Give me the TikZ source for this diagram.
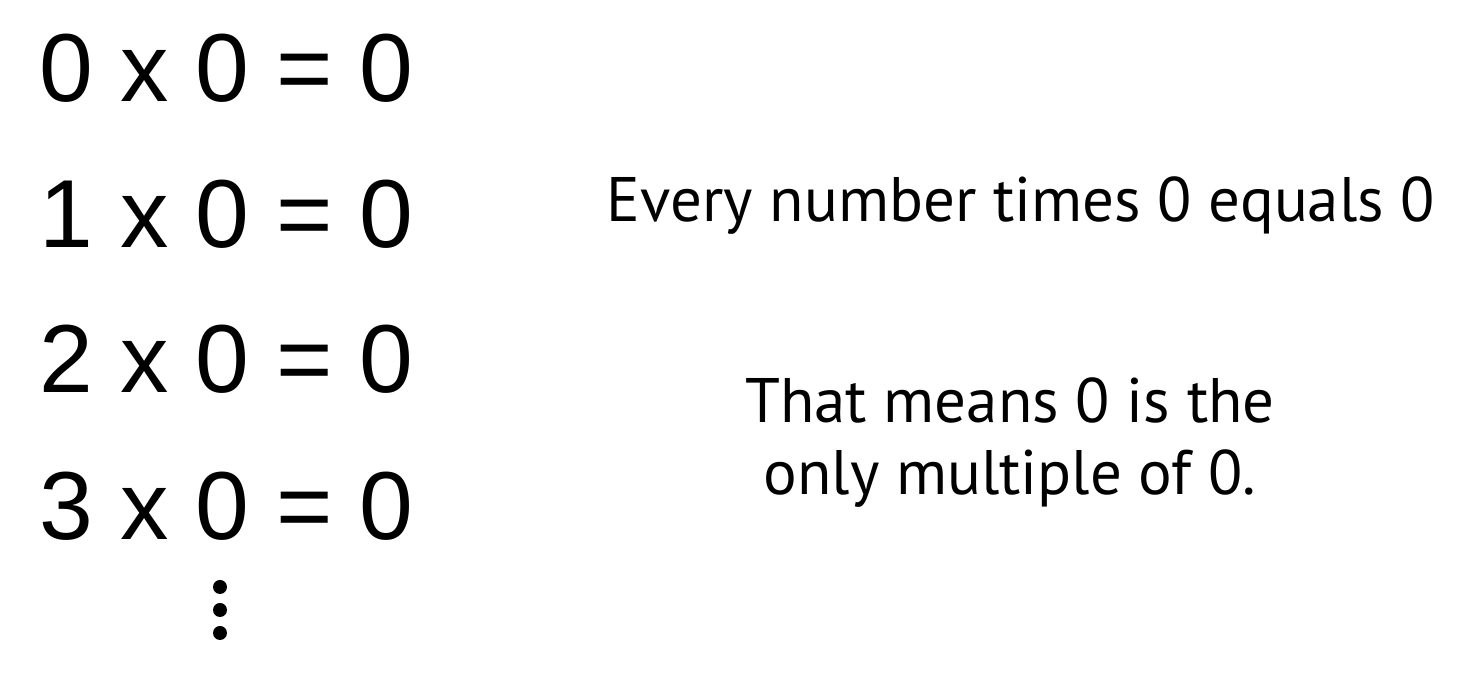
\documentclass[tikz,border=0pt]{standalone}
\usepackage{fontspec}
\usetikzlibrary{positioning}
\newfontfamily\eqfamily{Liberation Sans}
\newfontfamily\notefamily{PT Sans}
\tikzset{
    eqn/.style = {anchor=base west, inner sep=0pt, font=\eqfamily\fontsize{27.5}{32}\selectfont},
    note/.style = {anchor=base, inner sep=0pt, align=center, font=\notefamily\fontsize{17.9}{20.5}\selectfont},
    vdot/.style = {circle, fill=black, inner sep=0pt, minimum size=0.14cm},
}
\begin{document}
\begin{tikzpicture}
\useasboundingbox (0,0) rectangle (14.68,-6.76);
%
\node[eqn] at (0.39,-1.02) (e0) {0 x 0 = 0};
\node[eqn] at (0.39,-2.48) (e1) {1 x 0 = 0};
\node[eqn] at (0.39,-3.93) (e2) {2 x 0 = 0};
\node[eqn] at (0.39,-5.40) (e3) {3 x 0 = 0};
%
\node[vdot] at (2.20,-5.87) (d1) {};
\node[vdot] at (2.20,-6.10) (d2) {};
\node[vdot] at (2.20,-6.33) (d3) {};
%
\node[note] at (10.21,-2.22) (every) {Every number times 0 equals 0};
\node[note] at (10.10,-4.95) (means) {That means 0 is the\\only multiple of 0.};

\end{tikzpicture}
\end{document}
